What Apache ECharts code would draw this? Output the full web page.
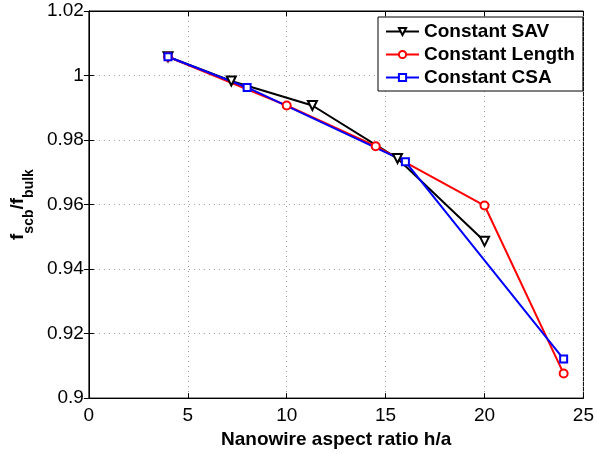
<!DOCTYPE html>
<html>
<head>
<meta charset="utf-8">
<script src="https://cdn.jsdelivr.net/npm/echarts@6/dist/echarts.min.js"></script>
<style>
html, body { margin: 0; padding: 0; background: #fff; }
#chartmain { width: 597px; height: 454px; }
</style>
</head>
<body>
<div id="chartmain"></div>
<script>
// data
var savX = [4, 7.2, 11.3, 15.6, 20];
var savY = [1.0058, 0.9983, 0.9907, 0.9743, 0.9486];
var lenX = [4, 10, 14.5, 20, 24];
var lenY = [1.0058, 0.9907, 0.9781, 0.9597, 0.9076];
var csaX = [4, 8, 16, 24];
var csaY = [1.0058, 0.9963, 0.9733, 0.9121];
var names = ['Constant SAV', 'Constant Length', 'Constant CSA'];

function pairs(xs, ys) {
	var out = [];
	for (var i = 0; i < xs.length; i++) {
		out.push([xs[i], ys[i]]);
	}
	return out;
}

var font = 'Arial, "Liberation Sans", Helvetica, sans-serif';
var grid = { left: 87, right: 10, top: 11, bottom: 48, show: true, borderColor: '#000', borderWidth: 1 };

var option = {
	animation : false,
	backgroundColor : '#fff',
	grid : grid,
	legend : {
		data : names,
		orient : 'vertical',
		left : 378,
		top : 17,
		width : 202,
		padding : [5, 8, 4, 7],
		itemGap : 4,
		itemWidth : 33,
		itemHeight : 9,
		backgroundColor : '#fff',
		borderColor : '#000',
		borderWidth : 1,
		textStyle : { fontFamily : font, fontWeight : 'bold', fontSize : 19, color : '#000' }
	},
	xAxis : [ {
		type : 'value',
		min : 0, max : 25, interval : 5,
		name : 'Nanowire aspect ratio h/a',
		nameLocation : 'middle',
		nameGap : 24,
		nameTextStyle : { fontFamily : font, fontWeight : 'bold', fontSize : 19, color : '#000', verticalAlign : 'top' },
		axisLine : { lineStyle : { color : '#000', width : 1 } },
		axisTick : { inside : true, length : 5, lineStyle : { color : '#000' } },
		axisLabel : { fontFamily : font, fontSize : 19, color : '#000', margin : 8 },
		splitLine : { show : true, lineStyle : { color : '#999', type : [1, 4], width : 1 } }
	}, {
		type : 'value', position : 'top',
		min : 0, max : 25, interval : 5,
		axisLine : { lineStyle : { color : '#000' } },
		axisTick : { inside : true, length : 5, lineStyle : { color : '#000' } },
		axisLabel : { show : false },
		splitLine : { show : false }
	} ],
	yAxis : [ {
		type : 'value',
		min : 0.9, max : 1.02, interval : 0.02,
		name : '{f|f}{s|scb}{f|/f}{s|bulk}',
		nameLocation : 'middle',
		nameRotate : 90,
		nameGap : 50,
		nameTextStyle : {
			fontFamily : font, fontWeight : 'bold', color : '#000',
			rich : {
				f : { fontFamily : font, fontWeight : 'bold', fontSize : 19, lineHeight : 18, verticalAlign : 'top', color : '#000' },
				s : { fontFamily : font, fontWeight : 'bold', fontSize : 14, lineHeight : 28, verticalAlign : 'bottom', color : '#000' }
			}
		},
		axisLine : { show : true, lineStyle : { color : '#000', width : 1 } },
		axisTick : { show : true, inside : true, length : 5, lineStyle : { color : '#000' } },
		axisLabel : {
			fontFamily : font, fontSize : 19, color : '#000', margin : 5,
			formatter : function(v) { return String(parseFloat(v.toFixed(2))); }
		},
		splitLine : { show : true, lineStyle : { color : '#999', type : [1, 4], width : 1 } }
	}, {
		type : 'value', position : 'right',
		min : 0.9, max : 1.02, interval : 0.02,
		axisLine : { show : true, lineStyle : { color : '#000' } },
		axisTick : { show : true, inside : true, length : 5, lineStyle : { color : '#000' } },
		axisLabel : { show : false },
		splitLine : { show : false }
	} ],
	series : [ {
		name : names[0],
		type : 'line',
		data : pairs(savX, savY),
		symbol : 'emptyTriangle',
		symbolRotate : 180,
		symbolSize : 9,
		lineStyle : { color : '#000', width : 2 },
		itemStyle : { color : '#000', borderWidth : 1.5 }
	}, {
		name : names[1],
		type : 'line',
		data : pairs(lenX, lenY),
		symbol : 'emptyCircle',
		symbolSize : 8,
		lineStyle : { color : '#ff0000', width : 2 },
		itemStyle : { color : '#ff0000', borderWidth : 1.5 }
	}, {
		name : names[2],
		type : 'line',
		data : pairs(csaX, csaY),
		symbol : 'emptyRect',
		symbolSize : 7,
		lineStyle : { color : '#0000ff', width : 2 },
		itemStyle : { color : '#0000ff', borderWidth : 1.5 }
	} ]
};

var myChart = echarts.init(document.getElementById('chartmain'));
myChart.setOption(option);
</script>
</body>
</html>
